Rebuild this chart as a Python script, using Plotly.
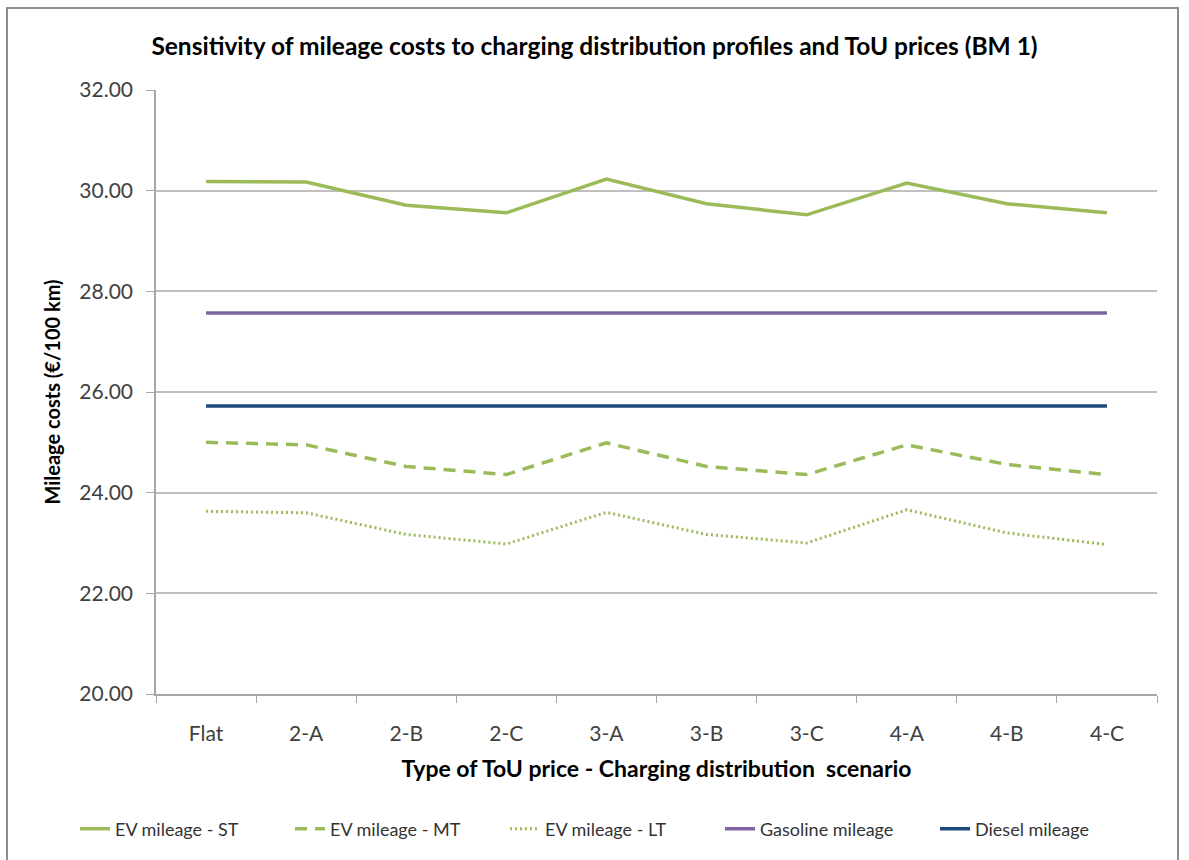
import plotly.graph_objects as go

# Charging distribution scenarios (x axis)
scenarios = ["Flat", "2-A", "2-B", "2-C", "3-A", "3-B", "3-C", "4-A", "4-B", "4-C"]

# Mileage costs in EUR per 100 km
ev_st = [30.18, 30.17, 29.71, 29.56, 30.23, 29.74, 29.52, 30.15, 29.74, 29.56]
ev_mt = [25.00, 24.95, 24.52, 24.36, 24.99, 24.52, 24.36, 24.95, 24.56, 24.36]
ev_lt = [23.63, 23.60, 23.17, 22.98, 23.61, 23.17, 23.00, 23.66, 23.20, 22.97]
gasoline = [27.57, 27.57, 27.57, 27.57, 27.57, 27.57, 27.57, 27.57, 27.57, 27.57]
diesel = [25.72, 25.72, 25.72, 25.72, 25.72, 25.72, 25.72, 25.72, 25.72, 25.72]

y_ticks = [20, 22, 24, 26, 28, 30, 32]

GREEN = "#9BBB59"
PURPLE = "#8064A2"
NAVY = "#1F497D"
FONT = "Lato"

fig = go.Figure()
fig.add_trace(go.Scatter(x=scenarios, y=ev_st, mode="lines", name="EV mileage - ST",
                         line=dict(color=GREEN, width=3.5)))
fig.add_trace(go.Scatter(x=scenarios, y=ev_mt, mode="lines", name="EV mileage - MT",
                         line=dict(color=GREEN, width=3.5, dash="12px,8px")))
fig.add_trace(go.Scatter(x=scenarios, y=ev_lt, mode="lines", name="EV mileage - LT",
                         line=dict(color=GREEN, width=3, dash="2px,3px")))
fig.add_trace(go.Scatter(x=scenarios, y=gasoline, mode="lines", name="Gasoline mileage",
                         line=dict(color=PURPLE, width=3.5)))
fig.add_trace(go.Scatter(x=scenarios, y=diesel, mode="lines", name="Diesel mileage",
                         line=dict(color=NAVY, width=3.5)))

# plot area in pixels: x 156..1157, y 90..694
PL, PR, PT, PB = 156, 1157, 90, 694
PW, PH = PR - PL, PB - PT

fig.update_layout(
    width=1189, height=860,
    margin=dict(l=PL, r=1189 - PR, t=PT, b=860 - PB, autoexpand=False),
    paper_bgcolor="white", plot_bgcolor="white",
    font=dict(family=FONT, color="#404040"),
    title=dict(
        text="<b>Sensitivity of mileage costs to charging distribution profiles and ToU prices (BM 1)</b>",
        x=0.5, xanchor="center", y=1 - 46 / 860, yanchor="middle",
        font=dict(family=FONT, size=24.5, color="#000000"),
    ),
    showlegend=True,
    legend=dict(
        orientation="h", x=(75 - PL) / PW, xanchor="left",
        y=(PB - 829) / PH, yanchor="middle",
        entrywidth=170, entrywidthmode="pixels",
        font=dict(family=FONT, size=18, color="#333333"),
        bgcolor="rgba(0,0,0,0)",
    ),
    shapes=[
        # outer chart frame
        dict(type="rect", xref="paper", yref="paper",
             x0=(7 - PL) / PW, x1=(1178 - PL) / PW,
             y0=(PB - 870) / PH, y1=(PB - 8) / PH,
             line=dict(color="#8C8C8C", width=2), fillcolor="rgba(0,0,0,0)", layer="below"),
    ],
)

fig.update_xaxes(
    type="category",
    showgrid=False,
    showline=True, linecolor="#A6A6A6", linewidth=1.5,
    ticks="outside", tickson="boundaries", ticklen=7, tickcolor="#A6A6A6",
    ticklabelstandoff=20,
    tickfont=dict(family=FONT, size=21, color="#404040"),
    title=dict(text="<b>Type of ToU price - Charging distribution  scenario</b>",
               font=dict(family=FONT, size=23, color="#000000"), standoff=17),
    range=[-0.5, 9.5],
)

fig.update_yaxes(
    range=[20, 32],
    tickvals=y_ticks,
    ticktext=[f"{v:.2f}" for v in y_ticks],
    showgrid=True, gridcolor="#BFBFBF", gridwidth=1.5,
    showline=True, linecolor="#A6A6A6", linewidth=1.5,
    ticks="outside", ticklen=8, tickcolor="#A6A6A6",
    ticklabelstandoff=9,
    zeroline=False,
    tickfont=dict(family=FONT, size=21, color="#404040"),
    title=dict(text="<b>Mileage costs (€/100 km)</b>",
               font=dict(family=FONT, size=20, color="#000000"), standoff=13),
)

fig.write_html("out.html")
